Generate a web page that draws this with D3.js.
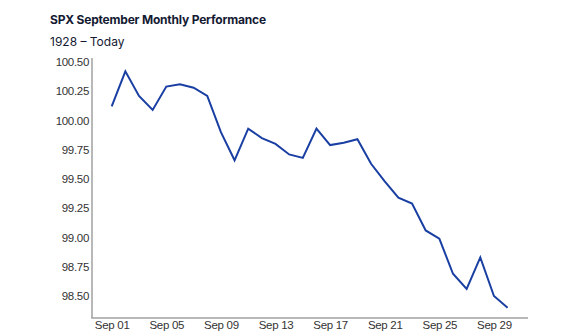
<!DOCTYPE html>
<html><head><meta charset="utf-8">
<script src="https://cdn.jsdelivr.net/npm/d3@7"></script>
<style>
body{margin:0;background:#fff;}
svg{display:block;}
</style></head>
<body><svg id="c" width="562" height="336"></svg>
<script>
const days = d3.range(1, 31);
const values = [100.12,100.42,100.21,100.09,100.29,100.31,100.28,100.21,99.90,99.66,
                99.93,99.85,99.80,99.71,99.68,99.93,99.79,99.81,99.84,99.63,
                99.48,99.34,99.29,99.06,98.99,98.69,98.56,98.83,98.50,98.40];
const xTickDays = [1,5,9,13,17,21,25,29];
const xTickLabels = ["Sep 01","Sep 05","Sep 09","Sep 13","Sep 17","Sep 21","Sep 25","Sep 29"];
const yTicks = [98.5,98.75,99,99.25,99.5,99.75,100,100.25,100.5];
const title = "SPX September Monthly Performance";
const subtitle = "1928 – Today";

const svg = d3.select("#c");
const x = d3.scaleLinear().domain([1,30]).range([111.7,507.6]);
const y = d3.scaleLinear().domain([98.5,100.5]).range([296,62]);

svg.append("text").attr("x",50).attr("y",24)
  .attr("font-family","Inter, 'Noto Sans', sans-serif").attr("font-weight",700)
  .attr("font-size",12).attr("letter-spacing",-0.2).attr("fill","#151a33").text(title);
svg.append("text").attr("x",50).attr("y",46)
  .attr("font-family","Inter, 'Noto Sans', sans-serif").attr("font-weight",400)
  .attr("font-size",12).attr("fill","#151a33").text(subtitle);

const axisColor = "#a0a0a0";
svg.append("line").attr("x1",92).attr("x2",92).attr("y1",58).attr("y2",318)
  .attr("stroke",axisColor).attr("stroke-width",1.5);
svg.append("line").attr("x1",91.25).attr("x2",528).attr("y1",318).attr("y2",318)
  .attr("stroke",axisColor).attr("stroke-width",1.5);

const yAxis = d3.axisLeft(y).tickValues(yTicks).tickSize(0).tickPadding(0)
  .tickFormat(d3.format(".2f"));
const gy = svg.append("g").attr("transform","translate(89,0)").call(yAxis);
gy.select(".domain").remove();
gy.selectAll("text").attr("font-family","'Liberation Sans', Arial, sans-serif")
  .attr("font-size",11.5).attr("letter-spacing",-0.3).attr("fill","#333");

const xAxis = d3.axisBottom(x).tickValues(xTickDays).tickSize(0).tickPadding(0)
  .tickFormat((d,i)=>xTickLabels[i]);
const gx = svg.append("g").attr("transform","translate(0,321)").call(xAxis);
gx.select(".domain").remove();
gx.selectAll("text").attr("font-family","'Liberation Sans', Arial, sans-serif")
  .attr("font-size",11.5).attr("letter-spacing",-0.3).attr("fill","#333");

const line = d3.line().x((d,i)=>x(days[i])).y(d=>y(d));
svg.append("path").datum(values).attr("d",line)
  .attr("fill","none").attr("stroke","#1a3fa3").attr("stroke-width",2)
  .attr("stroke-linejoin","miter");
</script></body></html>
